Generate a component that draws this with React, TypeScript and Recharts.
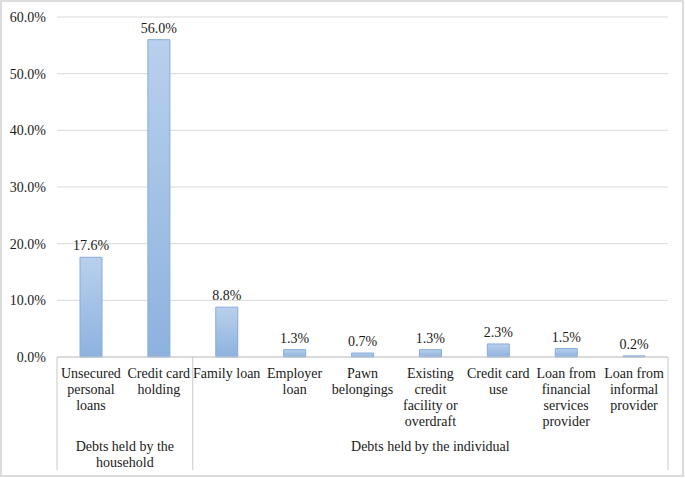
import { Bar, BarChart, CartesianGrid, LabelList, XAxis, YAxis } from "recharts";

const categories = [
  "Unsecured\npersonal\nloans",
  "Credit card\nholding",
  "Family loan",
  "Employer\nloan",
  "Pawn\nbelongings",
  "Existing\ncredit\nfacility or\noverdraft",
  "Credit card\nuse",
  "Loan from\nfinancial\nservices\nprovider",
  "Loan from\ninformal\nprovider",
];
const shares = [17.6, 56.0, 8.8, 1.3, 0.7, 1.3, 2.3, 1.5, 0.2];
const groups = [
  { label: "Debts held by the\nhousehold", count: 2 },
  { label: "Debts held by the individual", count: 7 },
];
const yTicks = [0, 10, 20, 30, 40, 50, 60];

const data = categories.map((name, i) => ({ name, value: shares[i] }));

const W = 685;
const H = 478;
const M = { top: 17, right: 17, left: 0, bottom: 0 };
const Y_W = 57;
const X_H = 121;
const FONT = "'Times New Roman', 'Liberation Serif', Times, serif";
const TEXT = "#1a1a1a";
const LINE = "#c8c8c8";
const txt = { fontFamily: FONT, fontSize: 14, fill: TEXT };

const plotW = W - M.left - M.right - Y_W;
const step = plotW / categories.length;
const axisY = H - M.bottom - X_H;
const sepBottom = 470;

// group starts by category index
const groupStart: Record<number, { label: string; count: number }> = {};
let acc = 0;
groups.forEach((g) => {
  groupStart[acc] = g;
  acc += g.count;
});

function CatTick(props: any) {
  const { x, index, payload } = props;
  const lines = String(payload.value).split("\n");
  const g = groupStart[index];
  const left = x - step / 2;
  return (
    <g>
      {lines.map((l, i) => (
        <text key={i} x={x} y={axisY + 21 + i * 16} textAnchor="middle" style={txt}>
          {l}
        </text>
      ))}
      {g && <line x1={left} x2={left} y1={axisY} y2={sepBottom} stroke={LINE} />}
      {index === categories.length - 1 && (
        <line x1={x + step / 2} x2={x + step / 2} y1={axisY} y2={sepBottom} stroke={LINE} />
      )}
      {g &&
        g.label.split("\n").map((l, i) => (
          <text key={"g" + i} x={left + (g.count * step) / 2} y={axisY + 94 + i * 16} textAnchor="middle" style={txt}>
            {l}
          </text>
        ))}
    </g>
  );
}

function YTick(props: any) {
  const { x, y, payload } = props;
  return (
    <text x={x} y={y} dy={5} textAnchor="end" style={txt}>
      {`${Number(payload.value).toFixed(1)}%`}
    </text>
  );
}

export default function App() {
  return (
    <div style={{ position: "absolute", left: 0, top: 0, width: W, height: H, background: "#fff", fontFamily: FONT }}>
      <div
        style={{
          position: "absolute",
          left: 0,
          top: 0,
          width: W - 1,
          height: H - 1,
          boxSizing: "border-box",
          border: "2px solid #dcdcdc",
          pointerEvents: "none",
        }}
      />
      <BarChart width={W} height={H} data={data} margin={M} barCategoryGap={0}>
        <defs>
          <linearGradient id="barFill" x1="0" y1="0" x2="0" y2="1">
            <stop offset="0%" stopColor="#b9d0ec" />
            <stop offset="100%" stopColor="#8db2de" />
          </linearGradient>
        </defs>
        <CartesianGrid vertical={false} stroke="#d9d9d9" />
        <YAxis
          width={Y_W}
          domain={[0, 60]}
          ticks={yTicks}
          tickLine={false}
          axisLine={false}
          tickSize={0}
          tickMargin={11}
          tick={<YTick />}
        />
        <XAxis
          dataKey="name"
          height={X_H}
          interval={0}
          tickLine={false}
          axisLine={{ stroke: LINE }}
          tick={<CatTick />}
        />
        <Bar dataKey="value" barSize={22} fill="url(#barFill)" stroke="#86acdb" strokeWidth={1} isAnimationActive={false}>
          <LabelList
            dataKey="value"
            position="top"
            offset={7}
            formatter={(v: any) => `${Number(v).toFixed(1)}%`}
            style={txt}
          />
        </Bar>
      </BarChart>
    </div>
  );
}
